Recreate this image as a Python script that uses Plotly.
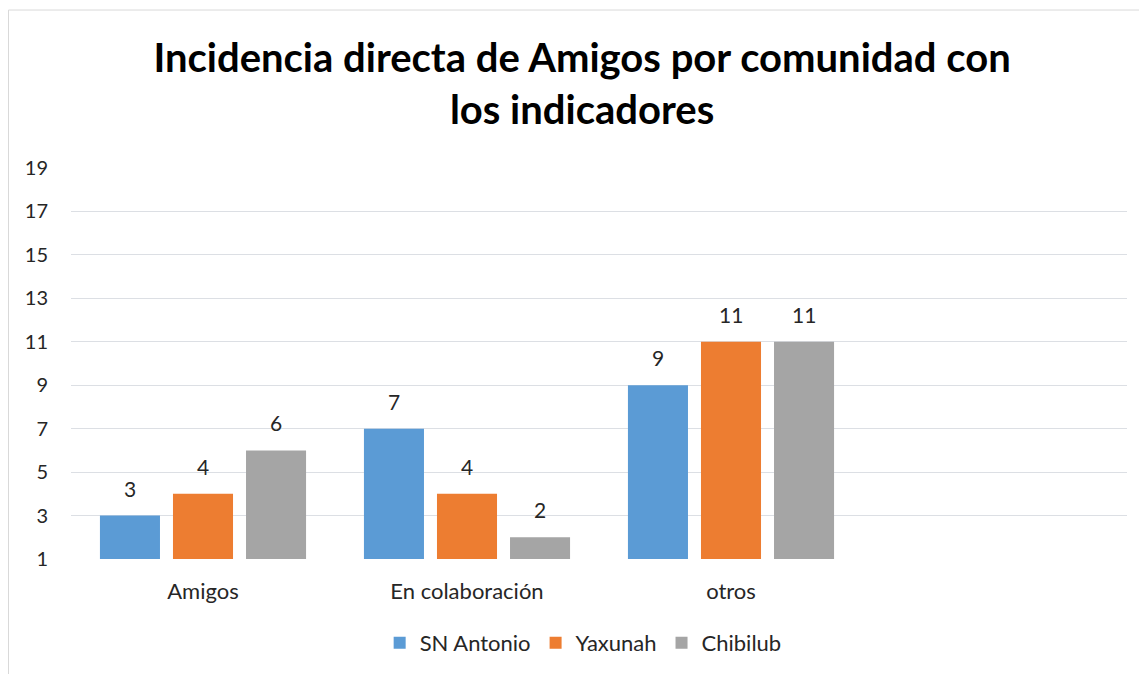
import plotly.graph_objects as go

categories = ["Amigos", "En colaboración", "otros"]
series_names = ["SN Antonio", "Yaxunah", "Chibilub"]
sn_antonio = [3, 7, 9]
yaxunah = [4, 4, 11]
chibilub = [6, 2, 11]
tick_vals = [1, 3, 5, 7, 9, 11, 13, 15, 17, 19]

colors = ["#5B9BD5", "#ED7D31", "#A5A5A5"]
font_family = "Lato, 'Open Sans', sans-serif"

# the page body adds an 8 px margin, so the figure is 8 px smaller each way
W, H = 1139, 666
ML, MR, MT, MB = 63, 20, 160, 115
BARGAP, BARGROUPGAP = 0.17, 0.178
N_SLOTS = 4  # three categories plus an empty slot on the right, as in the original

fig = go.Figure()
all_vals = [sn_antonio, yaxunah, chibilub]
for name, vals, col in zip(series_names, all_vals, colors):
    fig.add_trace(go.Bar(
        x=categories, y=vals, name=name,
        marker=dict(color=col, line=dict(width=0)),
        cliponaxis=False,
    ))

# data labels placed above each bar via the axis scales
cat_px = (W - ML - MR) / N_SLOTS
slot_px = (1 - BARGAP) * cat_px / len(series_names)
annotations = []
for i, vals in enumerate(all_vals):
    for cat, v in zip(categories, vals):
        annotations.append(dict(
            x=cat, y=v, xref="x", yref="y", text=str(v), showarrow=False,
            xanchor="center", yanchor="bottom",
            xshift=(i - (len(series_names) - 1) / 2) * slot_px, yshift=13,
            font=dict(size=21, color="#262626", family=font_family),
        ))

fig.update_layout(
    width=W, height=H,
    paper_bgcolor="white", plot_bgcolor="white",
    margin=dict(l=ML, r=MR, t=MT, b=MB, autoexpand=False),
    barmode="group", bargap=BARGAP, bargroupgap=BARGROUPGAP,
    title=dict(
        text="<b>Incidencia directa de Amigos por comunidad con<br>los indicadores</b>",
        x=0.504, xanchor="center", xref="container",
        y=0.9039, yanchor="middle", yref="container",
        font=dict(size=40, color="#000000", family=font_family),
    ),
    font=dict(family=font_family, size=20, color="#262626"),
    xaxis=dict(
        range=[-0.5, N_SLOTS - 0.5], showgrid=False, showline=False, ticks="",
        tickfont=dict(size=22, color="#262626"), ticklabelstandoff=17,
    ),
    yaxis=dict(
        range=[1, 19], tickvals=tick_vals, showgrid=True, gridcolor="#DCDFE4",
        gridwidth=1, zeroline=False, showline=False, ticks="",
        tickfont=dict(size=20, color="#262626"), ticklabelstandoff=22,
    ),
    legend=dict(
        orientation="h", x=0.485, xanchor="center", y=-0.215, yanchor="middle",
        font=dict(size=22, color="#262626"), itemwidth=30,
    ),
    annotations=annotations,
    shapes=[dict(
        type="rect", xref="paper", yref="paper",
        x0=-0.0592, x1=1.03, y0=-0.33, y1=1.404,
        line=dict(color="#D9D9D9", width=1), fillcolor="rgba(0,0,0,0)", layer="below",
    )],
)

fig.write_html("out.html")
